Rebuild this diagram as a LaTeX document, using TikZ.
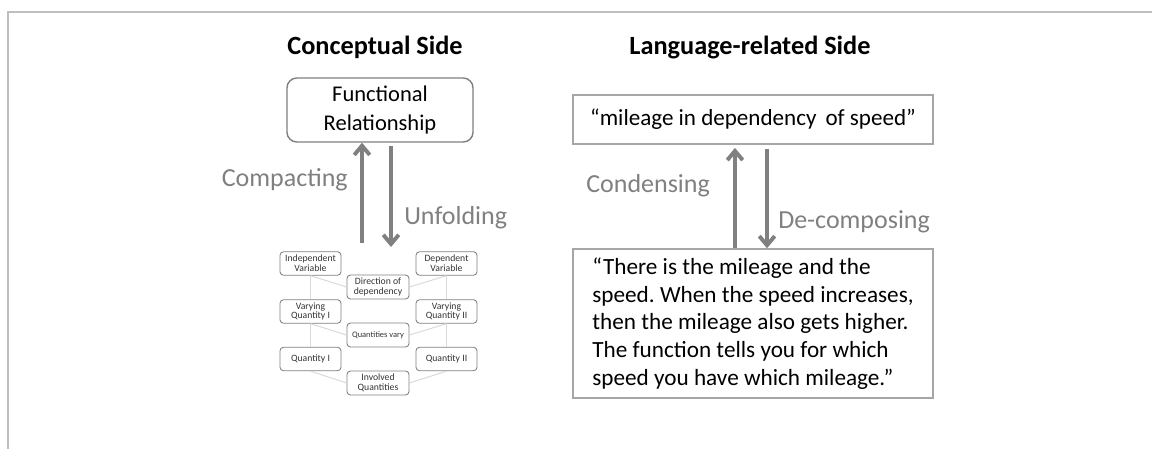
\documentclass[tikz,border=0pt]{standalone}
\usepackage{fontspec}
\setmainfont{Carlito}
\usetikzlibrary{arrows.meta}
\definecolor{framegray}{HTML}{BFBFBF}
\definecolor{arrowgray}{HTML}{808080}
\definecolor{boxgray}{HTML}{7F7F7F}
\definecolor{quotegray}{HTML}{A6A6A6}
\definecolor{linkgray}{HTML}{D9D9D9}
\frenchspacing
\tikzset{
  flow/.style={draw=arrowgray, line width=2.8pt, -{Straight Barb[length=6.5pt,width=11pt]}},
  flowlabel/.style={text=arrowgray, font=\fontsize{18.5}{22}\selectfont, inner sep=0pt},
  sidetitle/.style={font=\bfseries\fontsize{18.7}{22}\selectfont, inner sep=0pt},
  smallbox/.style={draw=boxgray, line width=0.6pt, rounded corners=2.5pt, align=center,
    minimum width=1.525cm, minimum height=0.5875cm, inner sep=0pt,
    font=\fontsize{6.9}{7}\selectfont, text=black!80},
  midbox/.style={smallbox, minimum width=1.55cm, minimum height=0.6cm},
  link/.style={draw=linkgray, line width=0.7pt},
  quotebox/.style={draw=quotegray, line width=1pt, minimum width=9cm, inner sep=0pt,
    font=\fontsize{16.5}{19.6}\selectfont}
}
\begin{document}
\begin{tikzpicture}[x=0.025cm, y=-0.025cm]
    \useasboundingbox (0,0) rectangle (1152,449);
    % Rahmen
    \draw[framegray, line width=1.2pt] (8,449) -- (8,12) -- (1152,12);

    % Ueberschriften
    \node[sidetitle] (concept) at (375,47) {Conceptual Side};
    \node[sidetitle] (language) at (750,47) {Language-related Side};

    % Konzeptuelle Seite
    \node[draw=boxgray, line width=1pt, rounded corners=7pt, align=center,
      minimum width=4.65cm, minimum height=1.6cm, inner sep=0pt,
      font=\fontsize{16}{20.5}\selectfont] (func) at (380,110) {Functional\\Relationship};

    \node[smallbox] (indep) at (310.5,263.5) {Independent\\Variable};
    \node[smallbox] (dep) at (446.5,263.5) {Dependent\\Variable};
    \node[midbox] (direction) at (378,287) {Direction of\\dependency};
    \node[smallbox] (varyone) at (310.5,311.5) {Varying\\Quantity I};
    \node[smallbox] (varytwo) at (446.5,311.5) {Varying\\Quantity II};
    \node[midbox, font=\fontsize{6}{7}\selectfont] (qvary) at (378,335) {Quantities vary};
    \node[smallbox] (qone) at (310.5,359) {Quantity I};
    \node[smallbox] (qtwo) at (446.5,359) {Quantity II};
    \node[midbox] (involved) at (378,383) {Involved\\Quantities};

    \draw[link] (indep) -- (varyone);
    \draw[link] (varyone) -- (qone);
    \draw[link] (dep) -- (varytwo);
    \draw[link] (varytwo) -- (qtwo);
    \draw[link] (indep.south) -- (direction.west);
    \draw[link] (dep.south) -- (direction.east);
    \draw[link] (varyone.south) -- (qvary.west);
    \draw[link] (varytwo.south) -- (qvary.east);
    \draw[link] (qone.south) -- (involved.west);
    \draw[link] (qtwo.south) -- (involved.east);

    \coordinate (cmpfoot) at (362,243);
    \coordinate (unftop) at (391,146);
    \coordinate (unftip) at (391,247);
    \draw[flow] (cmpfoot) -- (cmpfoot |- func.south);
    \draw[flow] (unftop) -- (unftip);
    \node[flowlabel, anchor=east] (compacting) at (348,180) {Compacting};
    \node[flowlabel, anchor=west] (unfolding) at (404,218) {Unfolding};

    % Sprachliche Seite
    \node[quotebox, minimum height=1.225cm, font=\fontsize{16.4}{19.6}\selectfont] (phrase) at (753,119.5)
      {“mileage in dependency\, of speed”};
    \node[quotebox, minimum height=3.725cm, align=left] (quote) at (753,323.5)
      {“There is the mileage and the\\speed. When the speed increases,\\then the mileage also gets higher.\\The function tells you for which\\speed you have which mileage.”};

    \draw[flow] ([xshift=-0.45cm]quote.north) -- ([xshift=-0.45cm,yshift=-0.08cm]phrase.south);
    \draw[flow] ([xshift=0.35cm,yshift=-0.1cm]phrase.south) -- ([xshift=0.35cm]quote.north);
    \node[flowlabel, anchor=west] (condensing) at (586,186) {Condensing};
    \node[flowlabel, anchor=west] (decomposing) at (778,222) {De-composing};
\end{tikzpicture}
\end{document}
